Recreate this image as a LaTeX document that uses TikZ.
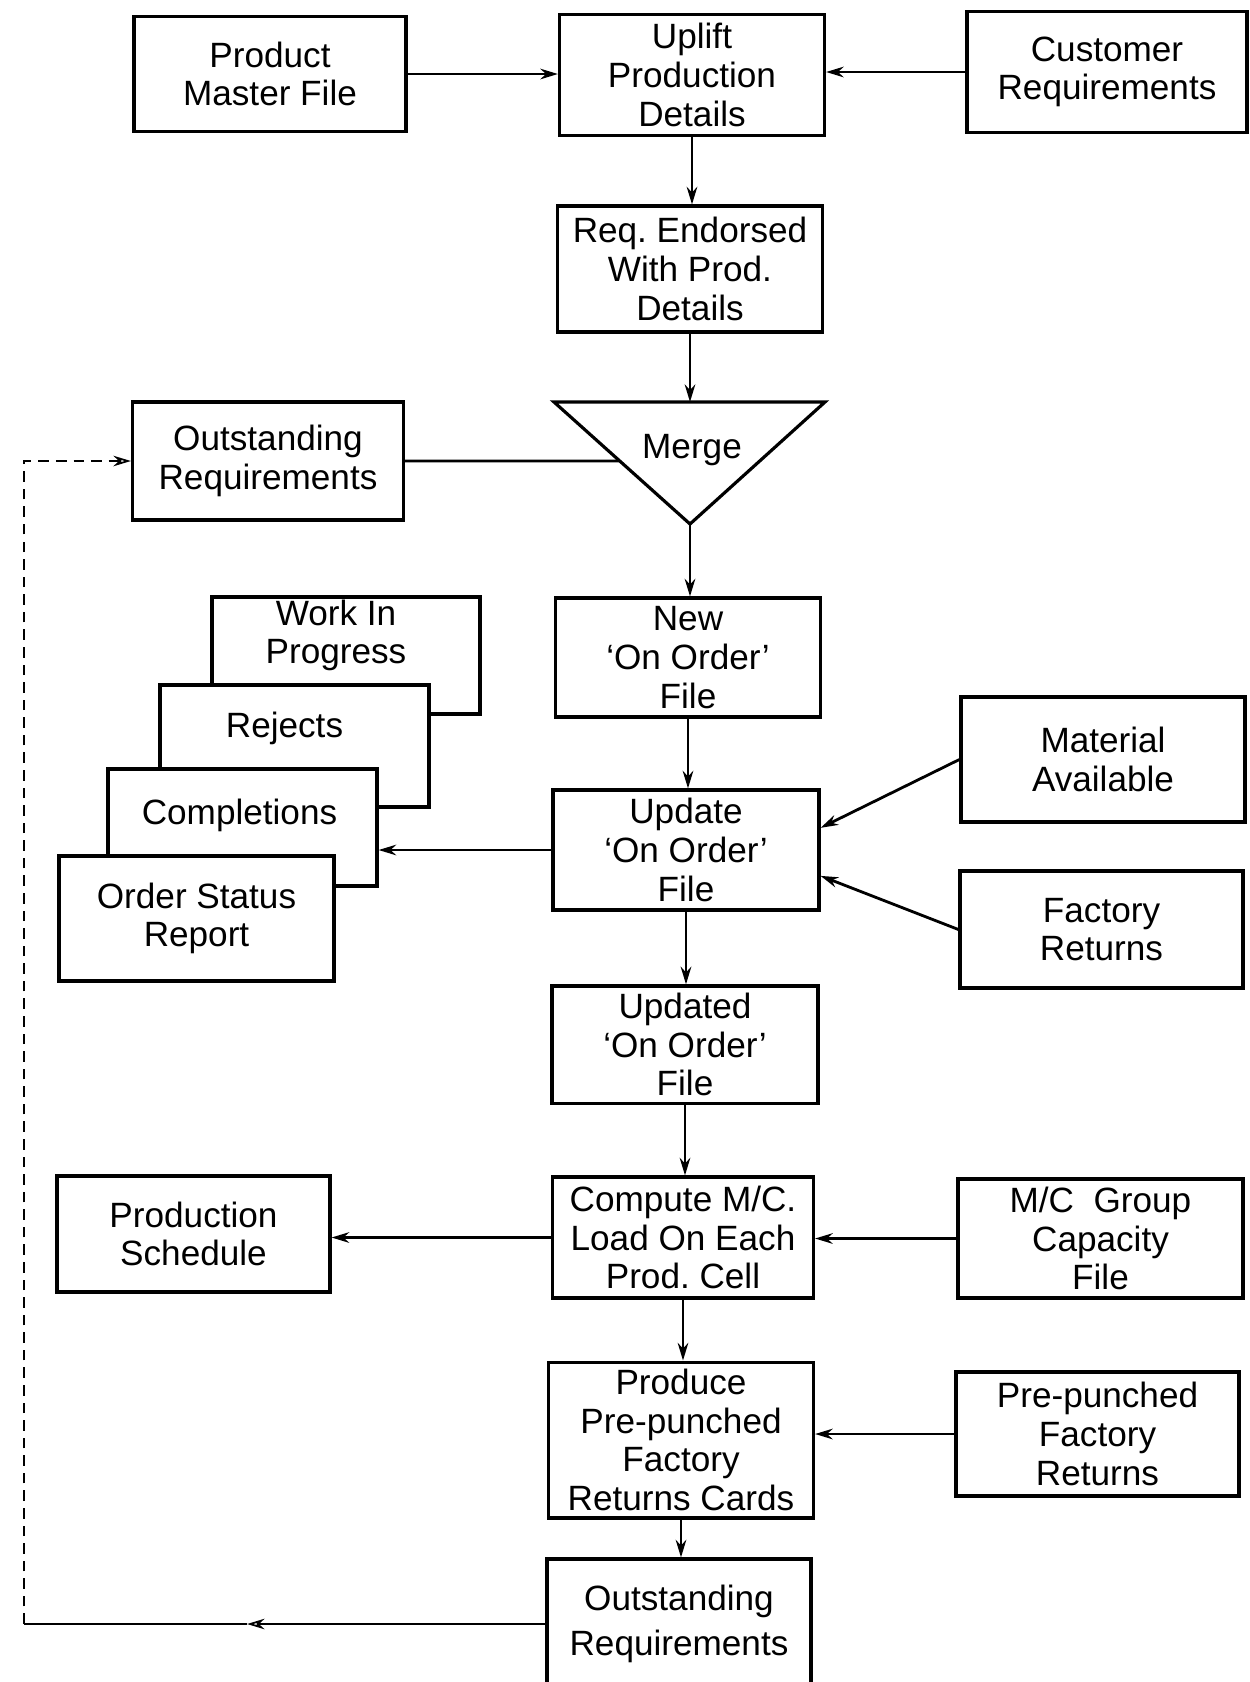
\documentclass[tikz,border=0pt]{standalone}
\usepackage{fontspec}
\setmainfont{Liberation Sans}
\usetikzlibrary{arrows.meta, positioning, calc}
\tikzset{
  box/.style={rectangle, draw=black, line width=0.9pt, fill=white,
              font=\fontsize{10}{11}\selectfont, align=center, inner sep=2pt},
  sz/.style 2 args={minimum width=#1cm, minimum height=#2cm},
  txt/.style={font=\fontsize{10}{11}\selectfont, align=center, inner sep=0pt},
  arr/.style={-{Stealth[open, length=5pt, width=3pt]}, line width=0.8pt},
  lnk/.style={line width=0.8pt},
  loopline/.style={line width=0.5pt},
}

\begin{document}
\begin{tikzpicture}
  \useasboundingbox (0,0) rectangle (12.5,-16.82);
  %% top row
  \node[box, sz={2.72}{1.15}] (pmf)     at (2.70,-0.74)  {Product\\Master File};
  \node[box, sz={2.65}{1.21}] (uplift)  at (6.92,-0.75)  {Uplift\\Production\\Details};
  \node[box, sz={2.80}{1.21}] (cust)    at (11.07,-0.72) {Customer\\Requirements};
  \node[box, sz={2.65}{1.26}] (endorse) at (6.90,-2.69)  {Req.\ Endorsed\\With Prod.\\Details};
  %% merge
  \coordinate (mtl)  at (5.54,-4.02);
  \coordinate (mtr)  at (8.25,-4.02);
  \coordinate (mbot) at (6.90,-5.24);
  \coordinate (mtop) at ($(mtl)!0.5!(mtr)$);
  \draw[line width=0.9pt, fill=white] (mtl) -- (mtr) -- (mbot) -- cycle;
  \node[txt] (merge) at (6.92,-4.50) {Merge};
  \node[box, sz={2.71}{1.18}] (outa) at (2.68,-4.61) {Outstanding\\Requirements};
  %% main column
  \node[box, sz={2.65}{1.19}] (new)      at (6.88,-6.575)  {New\\`On Order'\\File};
  \node[box, sz={2.66}{1.20}] (update)   at (6.86,-8.50)   {Update\\`On Order'\\File};
  \node[box, sz={2.66}{1.17}] (updated)  at (6.85,-10.445) {Updated\\`On Order'\\File};
  \node[box, sz={2.61}{1.21}] (compute)  at (6.83,-12.375) {Compute M/C.\\Load On Each\\Prod.\ Cell};
  \node[box, sz={2.65}{1.42}] (produce)  at (6.81,-14.40)  {Produce\\Pre-punched\\Factory\\Returns Cards};
  \node[box, sz={2.64}{1.30}] (outb)     at (6.79,-16.24)  {Outstanding\\[2pt]Requirements};
  %% right column
  \node[box, sz={2.84}{1.25}] (material) at (11.03,-7.595)  {Material\\Available};
  \node[box, sz={2.83}{1.17}] (facret)   at (11.015,-9.295) {Factory\\Returns};
  \node[box, sz={2.85}{1.19}] (mcg)      at (11.005,-12.385){M/C~~Group\\Capacity\\File};
  \node[box, sz={2.83}{1.24}] (pfr)      at (10.975,-14.34) {Pre-punched\\Factory\\Returns};
  %% left side
  \node[box, sz={2.73}{1.16}] (prodsched) at (1.935,-12.34) {Production\\Schedule};
  \node[box, sz={2.68}{1.17}] (wip)  at (3.46,-6.555) {};
  \node[txt] (wipt)  at ($(wip.north)+(-0.1,-0.40)$) {Work In\\Progress};
  \node[box, sz={2.69}{1.22}] (rej)  at (2.945,-7.46) {};
  \node[txt] (rejt)  at ($(rej.north)+(-0.1,-0.45)$) {Rejects};
  \node[box, sz={2.69}{1.17}] (comp) at (2.425,-8.275) {};
  \node[txt] (compt) at ($(comp.north)+(-0.03,-0.48)$) {Completions};
  \node[box, sz={2.75}{1.25}] (osr)  at (1.965,-9.185) {Order Status\\Report};
  %% flow
  \draw[arr] (pmf.east) -- (pmf.east -| uplift.west);
  \draw[arr] (cust.west) -- (cust.west -| uplift.east);
  \draw[arr] (uplift.south) -- (uplift.south |- endorse.north);
  \draw[arr] (endorse.south) -- (endorse.south |- mtop);
  \draw[lnk] (outa.east) -- ($(mtl)!0.484!(mbot)$);
  \draw[arr] (mbot) -- (mbot |- new.north);
  \draw[arr] (new.south) -- (new.south |- update.north);
  \draw[arr] (material.west) -- ($(update.north east)!0.32!(update.south east)$);
  \draw[arr] (facret.west) -- ($(update.north east)!0.71!(update.south east)$);
  \draw[arr] (update.west) -- (update.west -| comp.east);
  \draw[arr] (update.south) -- (update.south |- updated.north);
  \draw[arr] (updated.south) -- (updated.south |- compute.north);
  \draw[arr] (compute.west) -- (compute.west -| prodsched.east);
  \draw[arr] (mcg.west) -- (mcg.west -| compute.east);
  \draw[arr] (compute.south) -- (compute.south |- produce.north);
  \draw[arr] (pfr.west) -- (pfr.west -| produce.east);
  \draw[arr] (produce.south) -- (produce.south |- outb.north);
  %% loop back
  \coordinate (loopmid)  at (2.47,0);
  \coordinate (loopturn) at (0.24,0);
  \draw[arr, loopline] (outb.west) -- (outb.west -| loopmid);
  \draw[loopline] (outb.west -| loopmid) -- (outb.west -| loopturn);
  \draw[arr, loopline, densely dashed] (outb.west -| loopturn) |- (outa.west);
\end{tikzpicture}
\end{document}
